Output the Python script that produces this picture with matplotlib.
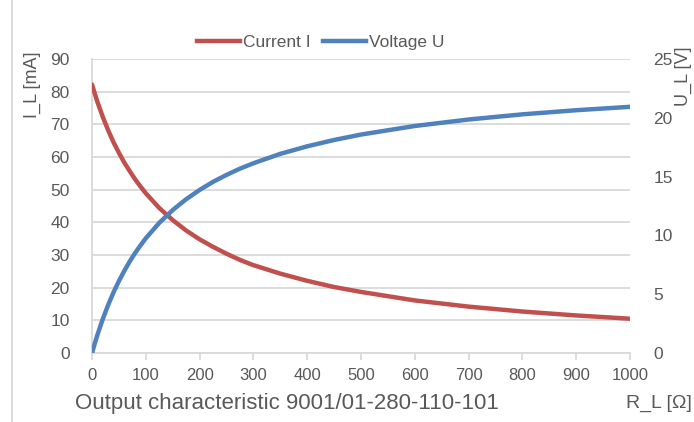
import matplotlib.pyplot as plt
from matplotlib.lines import Line2D

plt.rcParams['font.family'] = ['Liberation Sans', 'DejaVu Sans']

# Load resistance R_L in Ohm
r_load = [0, 5, 10, 20, 30, 40, 50, 60, 70, 80, 90, 100, 125, 150, 175, 200,
          225, 250, 275, 300, 350, 400, 450, 500, 600, 700, 800, 900, 1000]
# Current I in mA (left axis)
current = [82.2, 79.5, 76.9, 72.3, 68.2, 64.5, 61.3, 58.3, 55.7, 53.2, 51.0,
           48.9, 44.4, 40.7, 37.5, 34.8, 32.5, 30.4, 28.5, 26.9, 24.3, 22.1,
           20.2, 18.7, 16.1, 14.2, 12.7, 11.5, 10.5]
# Voltage U in V (right axis)
voltage = [0.0, 0.79, 1.54, 2.89, 4.09, 5.16, 6.12, 6.99, 7.78, 8.50, 9.15,
           9.76, 11.07, 12.16, 13.08, 13.87, 14.56, 15.15, 15.68, 16.14, 16.94,
           17.58, 18.12, 18.58, 19.31, 19.86, 20.30, 20.65, 20.94]

x_ticks = list(range(0, 1001, 100))
left_ticks = list(range(0, 91, 10))
right_ticks = list(range(0, 26, 5))

red = '#C0504D'
blue = '#4F81BD'
grey_text = '#595959'
grid_col = '#D9D9D9'

fig = plt.figure(figsize=(6.94, 4.22), dpi=100)
ax = fig.add_axes([0.1326, 0.1635, 0.7752, 0.6965])
ax2 = ax.twinx()

ax.plot(r_load, current, color=red, lw=3.2, solid_capstyle='round',
        solid_joinstyle='round', zorder=3)
ax2.plot(r_load, voltage, color=blue, lw=3.2, solid_capstyle='round',
         solid_joinstyle='round', zorder=3)

ax.set_xlim(0, 1000)
ax.set_ylim(0, 90)
ax2.set_ylim(0, 25)
ax.set_xticks(x_ticks)
ax.set_yticks(left_ticks)
ax2.set_yticks(right_ticks)

ax.grid(axis='y', color=grid_col, lw=1.3)
ax.set_axisbelow(True)
for a in (ax, ax2):
    for s in a.spines.values():
        s.set_visible(False)
ax.spines['bottom'].set_visible(True)
ax.spines['bottom'].set_color(grid_col)
ax.spines['bottom'].set_linewidth(1.3)
ax.spines['left'].set_visible(True)
ax.spines['left'].set_color(grid_col)
ax.spines['left'].set_linewidth(1.3)

ax.tick_params(axis='x', length=5, width=1.3, color=grid_col, labelsize=12,
               labelcolor=grey_text, pad=6)
ax.tick_params(axis='y', length=0, labelsize=12.5, labelcolor=grey_text, pad=16)
ax2.tick_params(axis='y', length=0, labelsize=12.5, labelcolor=grey_text, pad=17)

# axis titles
fig.text(0.047, 0.80, 'I_L [mA]', rotation=90, ha='center', va='center',
         fontsize=13, color=grey_text)
fig.text(0.985, 0.82, 'U_L [V]', rotation=90, ha='center', va='center',
         fontsize=13, color=grey_text)
fig.text(0.997, 0.045, 'R_L [Ω]', ha='right', va='center', fontsize=14,
         color=grey_text)
fig.text(0.108, 0.045, 'Output characteristic 9001/01-280-110-101', ha='left',
         va='center', fontsize=16, color=grey_text)

# legend
handles = [Line2D([], [], color=red, lw=3.2), Line2D([], [], color=blue, lw=3.2)]
fig.legend(handles, ['Current I', 'Voltage U'], loc='center',
           bbox_to_anchor=(0.462, 0.90), ncol=2, frameon=False, fontsize=12.5,
           handlelength=2.5, handletextpad=0.15, columnspacing=0.7,
           labelcolor=grey_text)

# chart frame line on the left
fig.add_artist(Line2D([0.017, 0.017], [0, 1], transform=fig.transFigure,
                      color=grid_col, lw=1.3))

fig.savefig('out.png', dpi=100)
